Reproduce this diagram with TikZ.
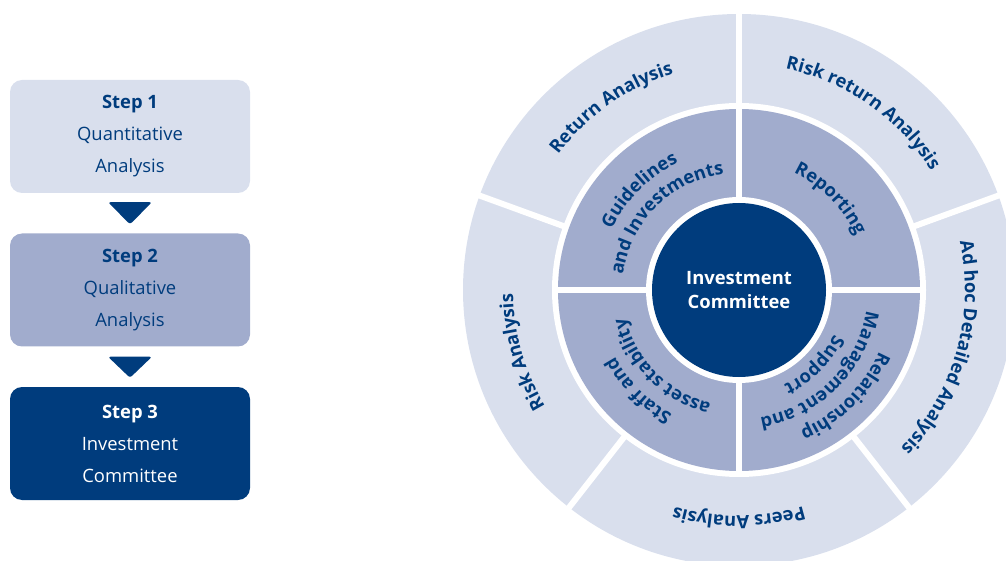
\documentclass[tikz,border=0pt]{standalone}
\usepackage{fontspec}
\setmainfont{Open Sans}
\usetikzlibrary{decorations.text}
\definecolor{navy}{HTML}{003C7D}
\definecolor{midblue}{HTML}{A1ACCD}
\definecolor{lightblue}{HTML}{D9DFED}
\newcommand\ringfont{\fontsize{18.3}{20}\selectfont\bfseries}
\newcommand\ringlabel[4]{%
  \path[shift={(739,270)}, decorate, decoration={text along path, text align=center,
    text color=navy, text={|\ringfont|#4}}]
    ({#1+#3}:#2) arc[start angle={#1+#3}, end angle={#1-#3}, radius=#2];}
\tikzset{
  stepbox/.style={rounded corners=12pt, minimum width=240pt, minimum height=113pt,
    align=center, inner sep=0pt, font=\fontsize{18.4}{32}\selectfont},
  gapline/.style={draw=white, line width=6pt},
  stepArrow/.style={fill=navy, rounded corners=2.5pt},
}
\begin{document}
\begin{tikzpicture}[x=1pt,y=1pt]
\useasboundingbox (0,0) rectangle (1006,560);
\clip (0,0) rectangle (1006,560);
% steps
\node[stepbox, fill=lightblue, text=navy] (s1) at (130,423.5) {\textbf{Step 1}\\Quantitative\\Analysis};
\node[stepbox, fill=midblue, text=navy] (s2) at (130,270) {\textbf{Step 2}\\Qualitative\\Analysis};
\node[stepbox, fill=navy, text=white] (s3) at (130,116.5) {\textbf{Step 3}\\Investment\\Committee};
\fill[stepArrow] ([xshift=-22pt,yshift=-9pt]s1.south) -- ([xshift=22pt,yshift=-9pt]s1.south) -- ([yshift=9pt]s2.north) -- cycle;
\fill[stepArrow] ([xshift=-22pt,yshift=-10pt]s2.south) -- ([xshift=22pt,yshift=-10pt]s2.south) -- ([yshift=9pt]s3.north) -- cycle;
% ring
\coordinate (C) at (739,270);
\fill[lightblue] (C) circle[radius=276];
\foreach \a in {90,20,-52,-128,160}
  \draw[gapline] ([shift={(\a:170)}]C) -- ([shift={(\a:290)}]C);
\fill[white] (C) circle[radius=187];
\fill[midblue] (C) circle[radius=181];
\draw[gapline] ([shift={(-185,0)}]C) -- ([shift={(185,0)}]C);
\draw[gapline] ([shift={(0,-185)}]C) -- ([shift={(0,185)}]C);
\fill[white] (C) circle[radius=93];
\fill[navy] (C) circle[radius=87];
\node[text=white, font=\fontsize{18.4}{24}\selectfont\bfseries, align=center] (ic) at (C) {Investment\\Committee};
% outer labels
\ringlabel{125}{226}{35}{Return Analysis}
\ringlabel{55}{226}{35}{Risk return Analysis}
\ringlabel{-16}{226}{36}{Ad hoc Detailed Analysis}
\ringlabel{-90}{226}{35}{Peers Analysis}
\ringlabel{-164}{226}{35}{Risk Analysis}
% middle labels
\ringlabel{135}{141}{43}{Guidelines}
\ringlabel{135}{117}{43}{and Investments}
\ringlabel{45}{129}{43}{Reporting}
\ringlabel{-45}{153}{43}{Relationship}
\ringlabel{-45}{129}{43}{Management and}
\ringlabel{-45}{105}{43}{Support}
\ringlabel{-135}{141}{43}{Staff and}
\ringlabel{-135}{117}{43}{asset stability}
\end{tikzpicture}
\end{document}
